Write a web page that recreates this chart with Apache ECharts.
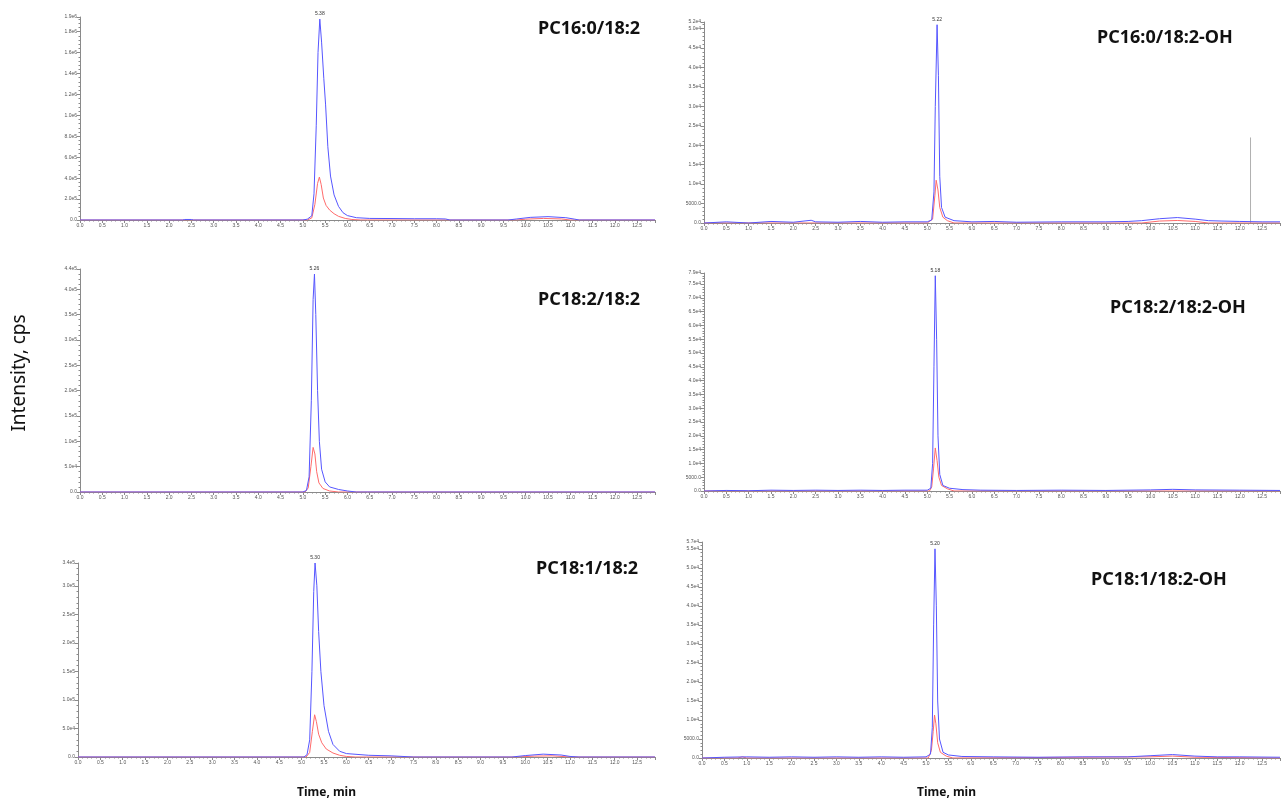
<!DOCTYPE html>
<html>
<head>
<meta charset="utf-8">
<script src="https://cdn.jsdelivr.net/npm/echarts@6/dist/echarts.min.js"></script>
<style>
  html, body { margin: 0; padding: 0; background: #fff; }
  #chart { width: 1282px; height: 801px; }
</style>
</head>
<body>
<div id="chart"></div>
<script>
// panel names and retention times of the labelled peaks
const panelNames = ['PC16:0/18:2', 'PC16:0/18:2-OH', 'PC18:2/18:2', 'PC18:2/18:2-OH', 'PC18:1/18:2', 'PC18:1/18:2-OH'];
const peakTimes = [5.38, 5.22, 5.26, 5.18, 5.30, 5.20];
// top of each intensity axis and its tick step
const yMax = [1.94e6, 5.17e4, 4.4e5, 7.9e4, 3.4e5, 5.68e4];
const yStep = [2e5, 5000, 5e4, 5000, 5e4, 5000];

// [time (min), intensity (cps)]
const blue1 = [[0,0],[2.3,0],[2.35,5000],[2.5,5000],[2.55,0],[5.0,0],[5.1,8000],[5.2,40000],[5.25,250000],[5.3,900000],[5.34,1600000],[5.38,1920000],[5.42,1700000],[5.47,1350000],[5.51,1100000],[5.56,700000],[5.62,420000],[5.7,240000],[5.8,130000],[5.9,70000],[6.0,42000],[6.2,22000],[6.5,15000],[7.0,14000],[7.5,12000],[8.0,12000],[8.2,10000],[8.3,0],[9.6,0],[9.8,10000],[10.1,25000],[10.5,32000],[10.9,22000],[11.1,8000],[11.2,0],[12.9,0]];
const red1 = [[0,0],[5.1,0],[5.2,20000],[5.27,150000],[5.33,350000],[5.37,410000],[5.41,340000],[5.46,210000],[5.52,140000],[5.6,95000],[5.7,60000],[5.8,35000],[5.95,15000],[6.1,5000],[6.3,0],[9.8,0],[10.0,8000],[10.4,15000],[10.8,10000],[11.0,0],[12.9,0]];

const blue2 = [[0,0],[0.5,300],[1.0,0],[1.5,400],[2.0,200],[2.4,700],[2.5,300],[3.0,200],[3.5,400],[4.0,200],[4.5,300],[5.0,300],[5.1,800],[5.15,8000],[5.18,30000],[5.22,51000],[5.25,38000],[5.28,12000],[5.32,4000],[5.4,1500],[5.6,600],[6.0,300],[6.5,400],[7.0,200],[8.0,300],[9.0,300],[9.5,400],[9.8,600],[10.2,1100],[10.6,1400],[11.0,1000],[11.3,600],[11.6,500],[12.0,400],[12.5,300],[12.9,300]];
const red2 = [[0,0],[5.0,0],[5.12,1000],[5.17,7000],[5.2,11000],[5.24,8500],[5.28,4000],[5.35,1500],[5.45,600],[5.6,0],[9.8,0],[10.2,500],[10.6,650],[11.0,400],[11.3,0],[12.9,0]];
const gray2 = [[12.24,0],[12.24,22000]];

const blue3 = [[0,0],[5.0,0],[5.08,3000],[5.14,30000],[5.19,180000],[5.23,380000],[5.26,430000],[5.29,350000],[5.33,200000],[5.37,100000],[5.42,45000],[5.5,20000],[5.6,10000],[5.8,5000],[6.0,2000],[6.2,0],[12.9,0]];
const red3 = [[0,0],[5.05,0],[5.12,8000],[5.18,50000],[5.23,88000],[5.27,75000],[5.31,40000],[5.36,18000],[5.45,7000],[5.6,2000],[5.8,0],[12.9,0]];

const blue4 = [[0,0],[0.5,200],[1,100],[1.5,300],[2,200],[2.5,300],[3,200],[3.5,300],[4,200],[4.5,300],[5.0,300],[5.08,1000],[5.12,10000],[5.15,45000],[5.18,78000],[5.21,55000],[5.24,20000],[5.28,6000],[5.35,2000],[5.5,1000],[5.8,500],[6.2,300],[7,200],[8,300],[9,200],[10,400],[10.5,600],[11,400],[12,300],[12.9,200]];
const red4 = [[0,0],[5.05,0],[5.1,1500],[5.14,8000],[5.18,15600],[5.22,11000],[5.26,5000],[5.32,2000],[5.45,800],[5.6,0],[12.9,0]];

const blue5 = [[0,0],[5.05,0],[5.12,4000],[5.18,30000],[5.23,150000],[5.27,290000],[5.3,340000],[5.34,300000],[5.38,220000],[5.43,150000],[5.5,90000],[5.6,45000],[5.7,22000],[5.85,10000],[6.0,6000],[6.5,3000],[7.0,2000],[7.5,0],[9.7,0],[10.0,2500],[10.4,5000],[10.8,3500],[11.0,1000],[11.2,0],[12.9,0]];
const red5 = [[0,0],[5.1,0],[5.18,8000],[5.24,45000],[5.29,74000],[5.33,62000],[5.38,40000],[5.45,25000],[5.55,14000],[5.7,7000],[5.85,3000],[6.0,1000],[6.2,0],[9.8,0],[10.2,1500],[10.6,2000],[11.0,0],[12.9,0]];

const blue6 = [[0,0],[0.5,200],[1.0,300],[1.5,200],[2.0,300],[2.5,200],[3,300],[3.5,200],[4,300],[4.5,200],[5.0,300],[5.1,1000],[5.14,8000],[5.17,35000],[5.2,55000],[5.23,40000],[5.26,15000],[5.3,5000],[5.38,1500],[5.5,800],[5.8,400],[6.5,300],[7.5,200],[8.5,300],[9.5,300],[10.0,600],[10.5,900],[11.0,500],[11.5,300],[12.0,300],[12.9,200]];
const red6 = [[0,0],[0.8,0],[0.9,300],[1.0,0],[5.05,0],[5.12,2000],[5.16,7000],[5.19,11300],[5.22,9000],[5.26,4000],[5.32,1500],[5.45,500],[5.6,0],[10.0,300],[10.5,500],[11.0,200],[12.9,0]];

const blueSets = [blue1, blue2, blue3, blue4, blue5, blue6];
const redSets = [red1, red2, red3, red4, red5, red6];

// grid boxes in px (left, top, width, height)
const boxes = [
  [80, 17, 575, 203],
  [704, 22, 576, 201],
  [80, 269, 575, 223],
  [704, 273, 576, 218],
  [78, 563, 577, 194],
  [702, 542, 578, 216]
];
// where each panel name sits
const namePos = [[533, 15], [1092, 24], [533, 286], [1105, 294], [531, 555], [1086, 566]];

const chart = echarts.init(document.getElementById('chart'), null, { renderer: 'canvas' });

function fmtY(v) {
  if (v === 0) return '0.0';
  if (v < 1e4) return v.toFixed(1);
  return v.toExponential(1).replace('e+', 'e');
}

const axisGray = '#8a8a8a';
const tinyLabel = { fontSize: 5, color: '#555', fontFamily: 'Liberation Sans' };

const grids = [], xAxes = [], yAxes = [], series = [], titles = [];

for (let i = 0; i < 6; i++) {
  const b = boxes[i];
  grids.push({ left: b[0], top: b[1], width: b[2], height: b[3], containLabel: false });

  xAxes.push({
    type: 'value', gridIndex: i, min: 0, max: 12.9, interval: 0.5,
    axisLine: { show: true, onZero: false, lineStyle: { color: axisGray, width: 1 } },
    axisTick: { show: true, length: 3, lineStyle: { color: axisGray } },
    minorTick: { show: true, splitNumber: 5, length: 1.5, lineStyle: { color: axisGray } },
    splitLine: { show: false },
    axisLabel: Object.assign({ margin: 3, showMaxLabel: false, formatter: v => v.toFixed(1) }, tinyLabel)
  });

  yAxes.push({
    type: 'value', gridIndex: i, min: 0, max: yMax[i], interval: yStep[i],
    axisLine: { show: true, lineStyle: { color: axisGray, width: 1 } },
    axisTick: { show: true, length: 3, lineStyle: { color: axisGray } },
    minorTick: { show: true, splitNumber: 5, length: 1.5, lineStyle: { color: axisGray } },
    splitLine: { show: false },
    axisLabel: Object.assign({ margin: 3, showMaxLabel: true, formatter: fmtY }, tinyLabel)
  });

  // peak label placed on the blue trace apex
  const blue = blueSets[i];
  let top = blue[0];
  blue.forEach(p => { if (p[1] > top[1]) top = p; });

  series.push({
    type: 'line', xAxisIndex: i, yAxisIndex: i, data: redSets[i],
    showSymbol: false, smooth: false, silent: true,
    lineStyle: { color: '#ff6b6b', width: 1 }, z: 2
  });
  series.push({
    type: 'line', xAxisIndex: i, yAxisIndex: i, data: blue,
    showSymbol: false, smooth: false, silent: true,
    lineStyle: { color: '#5656ff', width: 1 }, z: 3,
    markPoint: {
      symbol: 'circle', symbolSize: 0, silent: true,
      label: { show: true, position: 'top', distance: 3, fontSize: 5, color: '#333', fontFamily: 'Liberation Sans', formatter: peakTimes[i].toFixed(2) },
      data: [{ coord: [peakTimes[i], top[1]] }]
    }
  });

  titles.push({
    text: panelNames[i], left: namePos[i][0], top: namePos[i][1],
    textStyle: { fontSize: 18, fontWeight: 'bold', color: '#111', fontFamily: 'Noto Sans' }
  });
}

series.push({
  type: 'line', xAxisIndex: 1, yAxisIndex: 1, data: gray2,
  showSymbol: false, silent: true, lineStyle: { color: '#b0b0b0', width: 1 }, z: 1
});

titles.push({ text: 'Time, min', left: 292, top: 782, textStyle: { fontSize: 12, fontWeight: 'bold', color: '#111', fontFamily: 'Noto Sans' } });
titles.push({ text: 'Time, min', left: 912, top: 782, textStyle: { fontSize: 12, fontWeight: 'bold', color: '#111', fontFamily: 'Noto Sans' } });

const options = {
  animation: false,
  backgroundColor: '#fff',
  title: titles,
  grid: grids,
  xAxis: xAxes,
  yAxis: yAxes,
  series: series,
  graphic: [{
    type: 'text', x: 20, y: 373, rotation: Math.PI / 2,
    style: { text: 'Intensity, cps', fontSize: 19, fill: '#111', fontFamily: 'Noto Sans', align: 'center', verticalAlign: 'middle' }
  }]
};

chart.setOption(options);
</script>
</body>
</html>
